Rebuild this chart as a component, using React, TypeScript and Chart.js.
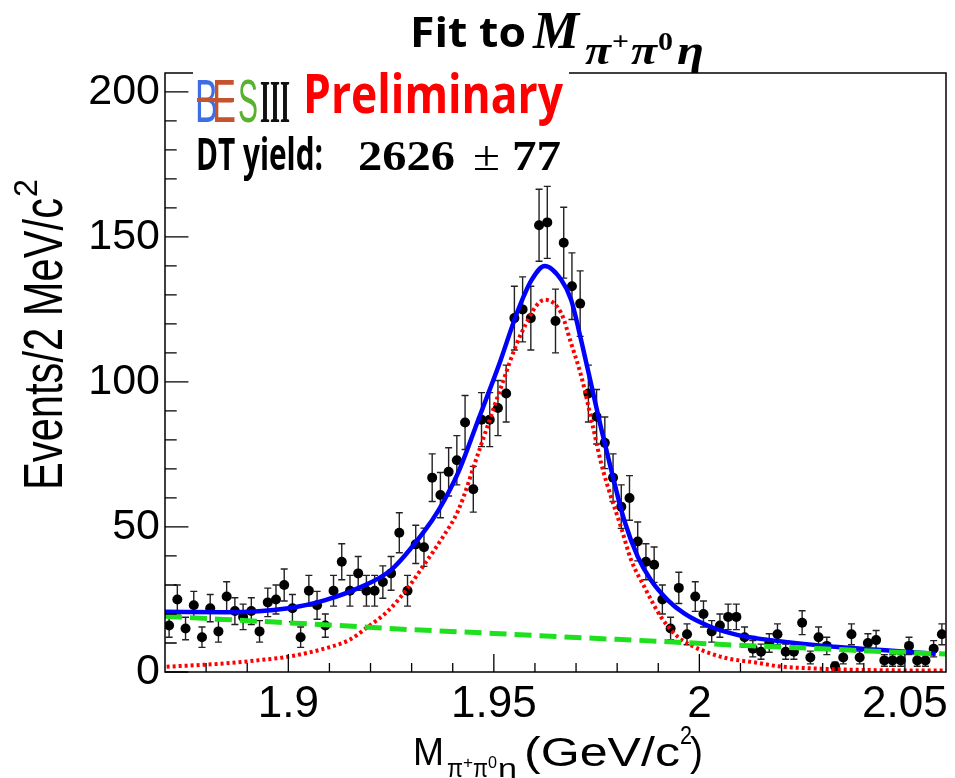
import React, { useEffect, useRef } from 'react';
import { Chart, registerables } from 'chart.js';

Chart.register(...registerables);

// ---- data ----
const massBins = [
  1.871, 1.873, 1.875, 1.877, 1.879, 1.881, 1.883, 1.885, 1.887, 1.889,
  1.891, 1.893, 1.895, 1.897, 1.899, 1.901, 1.903, 1.905, 1.907, 1.909,
  1.911, 1.913, 1.915, 1.917, 1.919, 1.921, 1.923, 1.925, 1.927, 1.929,
  1.931, 1.933, 1.935, 1.937, 1.939, 1.941, 1.943, 1.945, 1.947, 1.949,
  1.951, 1.953, 1.955, 1.957, 1.959, 1.961, 1.963, 1.965, 1.967, 1.969,
  1.971, 1.973, 1.975, 1.977, 1.979, 1.981, 1.983, 1.985, 1.987, 1.989,
  1.991, 1.993, 1.995, 1.997, 1.999, 2.001, 2.003, 2.005, 2.007, 2.009,
  2.011, 2.013, 2.015, 2.017, 2.019, 2.021, 2.023, 2.025, 2.027, 2.029,
  2.031, 2.033, 2.035, 2.037, 2.039, 2.041, 2.043, 2.045, 2.047, 2.049,
  2.051, 2.053, 2.055, 2.057, 2.059,
];

const counts = [
  16, 25, 15, 23, 12, 22, 14, 26, 21, 19,
  21, 14, 24, 25, 30, 22, 12, 28, 23, 16,
  28, 38, 28, 34, 28, 28, 31, 34, 48, 28,
  44, 43, 67, 61, 69, 73, 86, 63, 87, 87,
  91, 96, 122, 125, 122, 154, 155, 121, 148, 133,
  127, 96, 88, 79, 67, 57, 60, 45, 38, 37,
  25, 15, 29, 13, 26, 20, 14, 16, 19, 19,
  12, 8, 7, 10, 13, 7, 7, 17, 5, 12,
  9, 2, 5, 13, 5, 10, 11, 4, 4, 4,
  9, 4, 4, 8, 13,
];

const countErrors = [
  4.0, 5.0, 3.9, 4.8, 3.5, 4.7, 3.7, 5.1, 4.6, 4.4,
  4.6, 3.7, 4.9, 5.0, 5.5, 4.7, 3.5, 5.3, 4.8, 4.0,
  5.3, 6.2, 5.3, 5.8, 5.3, 5.3, 5.6, 5.8, 6.9, 5.3,
  6.6, 6.6, 8.2, 7.8, 8.3, 8.5, 9.3, 7.9, 9.3, 9.3,
  9.5, 9.8, 11.0, 11.2, 11.0, 12.4, 12.4, 11.0, 12.2, 11.5,
  11.3, 9.8, 9.4, 8.9, 8.2, 7.5, 7.7, 6.7, 6.2, 6.1,
  5.0, 3.9, 5.4, 3.6, 5.1, 4.5, 3.7, 4.0, 4.4, 4.4,
  3.5, 2.8, 2.6, 3.2, 3.6, 2.6, 2.6, 4.1, 2.2, 3.5,
  3.0, 1.4, 2.2, 3.6, 2.2, 3.2, 3.3, 2.0, 2.0, 2.0,
  3.0, 2.0, 2.0, 2.8, 3.6,
];

const totalFitX = [
  1.870, 1.885, 1.900, 1.909, 1.917, 1.925, 1.933, 1.9366, 1.9414, 1.9462,
  1.9511, 1.9559, 1.9592, 1.9624, 1.9664, 1.9688, 1.9713, 1.9741, 1.9761, 1.9785,
  1.9817, 1.9850, 1.9882, 1.9923, 1.9963, 2.0027, 2.0092, 2.0140, 2.0215, 2.0337,
  2.0460, 2.0575,
];
const totalFitY = [
  20.8, 20.6, 22.0, 24.8, 28.9, 35.2, 48.4, 55.9, 69.0, 86.9,
  105.3, 124.8, 135.2, 140.0, 135.2, 128.3, 114.0, 96.5, 84.0, 70.0,
  52.4, 39.8, 31.7, 24.8, 20.2, 15.6, 12.8, 11.6, 10.3, 8.6,
  7.4, 6.3,
];

const signalX = [
  1.8704, 1.8849, 1.8930, 1.9001, 1.9091, 1.9148, 1.9189, 1.9245, 1.9293, 1.9333,
  1.9374, 1.9414, 1.9462, 1.9515, 1.9567, 1.9624, 1.9664, 1.9688, 1.9713, 1.9741,
  1.9761, 1.9785, 1.9809, 1.9834, 1.9866, 1.9906, 1.9947, 1.9987, 2.0027, 2.0068,
  2.0140, 2.0190, 2.0300, 2.0450, 2.0600,
];
const signalY = [
  1.8, 3.0, 4.1, 5.3, 8.2, 11.0, 15.1, 21.4, 29.4, 37.5,
  46.1, 55.9, 75.4, 97.2, 116.8, 128.3, 123.7, 113.3, 101.8, 84.6,
  72.0, 60.4, 50.1, 38.6, 29.4, 19.1, 12.2, 8.7, 6.4, 4.7,
  3.2, 2.0, 1.1, 0.6, 0.5,
];

const backgroundX = [1.87, 1.89, 1.91, 1.93, 1.95, 1.97, 1.99, 2.01, 2.03, 2.045, 2.06];
const backgroundY = [19.2, 17.7, 16.2, 14.6, 13.3, 11.9, 10.6, 9.2, 8.0, 7.0, 6.2];

const xTickValues = [1.9, 1.95, 2.0, 2.05];
const xTickLabels = ['1.9', '1.95', '2', '2.05'];
const yTickValues = [0, 50, 100, 150, 200];
const yTickLabels = ['0', '50', '100', '150', '200'];

const X_MIN = 1.87;
const X_MAX = 2.06;
const Y_MIN = 0;
const Y_MAX = 206.5;

function drawFit(
  ctx: CanvasRenderingContext2D,
  text: string,
  x: number,
  y: number,
  font: string,
  color: string,
  targetW?: number
): number {
  ctx.save();
  ctx.font = font;
  ctx.fillStyle = color;
  ctx.textAlign = 'left';
  ctx.textBaseline = 'alphabetic';
  const w = ctx.measureText(text).width;
  const sx = targetW ? targetW / w : 1;
  ctx.translate(x, y);
  ctx.scale(sx, 1);
  ctx.fillText(text, 0, 0);
  ctx.restore();
  return x + w * sx;
}

const errorBarPlugin = {
  id: 'errorBars',
  beforeDatasetsDraw(chart: any) {
    const { ctx, chartArea, scales } = chart;
    const xs = scales.x;
    const ys = scales.y;
    ctx.save();
    ctx.beginPath();
    ctx.rect(chartArea.left, chartArea.top, chartArea.right - chartArea.left, chartArea.bottom - chartArea.top);
    ctx.clip();
    ctx.strokeStyle = '#222';
    ctx.lineWidth = 1.4;
    for (let i = 0; i < massBins.length; i++) {
      const px = xs.getPixelForValue(massBins[i]);
      const y1 = ys.getPixelForValue(counts[i] - countErrors[i]);
      const y2 = ys.getPixelForValue(counts[i] + countErrors[i]);
      ctx.beginPath();
      ctx.moveTo(px, y1);
      ctx.lineTo(px, y2);
      ctx.moveTo(px - 3.5, y1);
      ctx.lineTo(px + 3.5, y1);
      ctx.moveTo(px - 3.5, y2);
      ctx.lineTo(px + 3.5, y2);
      ctx.stroke();
    }
    ctx.restore();
  },
};

const decorPlugin = {
  id: 'decor',
  afterDraw(chart: any) {
    const { ctx, chartArea, scales } = chart;
    const xs = scales.x;
    const ys = scales.y;
    const L = chartArea.left;
    const R = chartArea.right;
    const T = chartArea.top;
    const B = chartArea.bottom;
    const H = B - T;
    const W = R - L;
    ctx.save();
    // frame
    ctx.strokeStyle = '#000';
    ctx.lineWidth = 1.5;
    ctx.strokeRect(L, T, W, H);
    // x ticks (inside, from bottom)
    ctx.lineWidth = 1.3;
    ctx.beginPath();
    for (let k = 0; k <= 19; k++) {
      const v = X_MIN + k * 0.01;
      const px = xs.getPixelForValue(v);
      if (px <= L + 1 || px >= R - 1) continue;
      const major = xTickValues.some((t) => Math.abs(t - v) < 1e-6);
      const len = major ? 0.03 * H : 0.015 * H;
      ctx.moveTo(px, B);
      ctx.lineTo(px, B - len);
    }
    // y ticks (inside, from left)
    for (let v = 0; v <= 200; v += 10) {
      const py = ys.getPixelForValue(v);
      const major = v % 50 === 0;
      const len = major ? 0.03 * W : 0.015 * W;
      ctx.moveTo(L, py);
      ctx.lineTo(L + len, py);
    }
    ctx.stroke();

    // logo box (covers part of the frame top line)
    ctx.fillStyle = '#fff';
    ctx.fillRect(193, 62, 376, 66);

    // BESIII logo letters
    drawFit(ctx, 'B', 195, 122, '62px "Liberation Sans"', '#3d6ee6', 23);
    drawFit(ctx, 'E', 212, 122, '62px "Liberation Sans"', '#c4532e', 24);
    ctx.strokeStyle = '#c4532e';
    ctx.lineWidth = 4;
    ctx.beginPath();
    ctx.moveTo(197, 100);
    ctx.lineTo(234, 100);
    ctx.stroke();
    drawFit(ctx, 'S', 238, 122, '62px "Liberation Sans"', '#58b22f', 20);
    drawFit(ctx, 'III', 260, 122, 'bold 62px "Liberation Serif"', '#111', 30);
    // Preliminary
    drawFit(ctx, 'Preliminary', 303, 113, 'bold 53px "Open Sans"', '#ff0000', 260);

    // DT yield
    drawFit(ctx, 'DT yield:', 196, 170, 'bold 44px "Open Sans"', '#000', 127);
    drawFit(ctx, '2626', 358, 170, 'bold 42px "Liberation Serif"', '#000', 97);
    drawFit(ctx, '±', 473, 170, '42px "Liberation Serif"', '#000', 27);
    drawFit(ctx, '77', 512, 170, 'bold 42px "Liberation Serif"', '#000', 49);

    // Title
    drawFit(ctx, 'Fit to', 410, 47, 'bold 42px "Open Sans"', '#000', 116);
    drawFit(ctx, 'M', 533, 48, 'bold italic 52px "Liberation Serif"', '#000', 46);
    drawFit(ctx, 'π', 585, 64, 'bold italic 42px "Liberation Serif"', '#000', 26);
    drawFit(ctx, '+', 612, 50, 'bold 26px "Liberation Serif"', '#000', 17);
    drawFit(ctx, 'π', 631, 64, 'bold italic 42px "Liberation Serif"', '#000', 26);
    drawFit(ctx, '0', 658, 50, 'bold 26px "Liberation Serif"', '#000', 15);
    drawFit(ctx, 'η', 677, 64, 'bold italic 42px "Liberation Serif"', '#000', 27);

    // X axis title
    const f = '"Liberation Sans"';
    drawFit(ctx, 'M', 413, 765, `39px ${f}`, '#000', 31);
    drawFit(ctx, 'π', 447, 777, `25px ${f}`, '#000', 16);
    drawFit(ctx, '+', 463, 768, `16px ${f}`, '#000', 10);
    drawFit(ctx, 'π', 473, 777, `25px ${f}`, '#000', 15);
    drawFit(ctx, '0', 488, 768, `16px ${f}`, '#000', 9);
    drawFit(ctx, 'η', 498, 777, `25px ${f}`, '#000', 19);
    drawFit(ctx, '(GeV/c', 524, 766, `41px ${f}`, '#000', 156);
    drawFit(ctx, '2', 680, 744, `25px ${f}`, '#000', 12);
    drawFit(ctx, ')', 690, 766, `41px ${f}`, '#000', 13);

    // Y axis title (rotated)
    ctx.save();
    ctx.translate(62, 490);
    ctx.rotate(-Math.PI / 2);
    drawFit(ctx, 'Events/2 MeV/c', 0, 0, `56px ${f}`, '#000', 292);
    drawFit(ctx, '2', 293, -25, `33px ${f}`, '#000', 18);
    ctx.restore();

    ctx.restore();
  },
};

export default function App() {
  const canvasRef = useRef<HTMLCanvasElement>(null);

  useEffect(() => {
    const canvas = canvasRef.current;
    if (!canvas) return;
    const chart = new Chart(canvas, {
      type: 'scatter',
      data: {
        datasets: [
          {
            label: 'background',
            data: backgroundX.map((x, i) => ({ x, y: backgroundY[i] })),
            showLine: true,
            borderColor: '#1fe01f',
            borderWidth: 5,
            borderDash: [17, 8],
            pointRadius: 0,
            cubicInterpolationMode: 'monotone',
            order: 0,
          } as any,
          {
            label: 'signal',
            data: signalX.map((x, i) => ({ x, y: signalY[i] })),
            showLine: true,
            borderColor: '#ff0000',
            borderWidth: 4,
            borderDash: [3, 3],
            pointRadius: 0,
            cubicInterpolationMode: 'monotone',
            order: 1,
          } as any,
          {
            label: 'total',
            data: totalFitX.map((x, i) => ({ x, y: totalFitY[i] })),
            showLine: true,
            borderColor: '#0000ff',
            borderWidth: 4.5,
            pointRadius: 0,
            cubicInterpolationMode: 'monotone',
            order: 2,
          } as any,
          {
            label: 'data',
            data: massBins.map((x, i) => ({ x, y: counts[i] })),
            showLine: false,
            pointRadius: 5,
            pointBackgroundColor: '#000',
            pointBorderColor: '#000',
            pointBorderWidth: 0,
            order: 3,
          } as any,
        ],
      },
      options: {
        animation: false,
        responsive: true,
        maintainAspectRatio: false,
        layout: { padding: { left: 0, top: 73, right: 9, bottom: 0 } },
        plugins: {
          legend: { display: false },
          title: { display: false },
          tooltip: { enabled: false },
        },
        scales: {
          x: {
            type: 'linear',
            min: X_MIN,
            max: X_MAX,
            grid: { display: false, drawTicks: false },
            border: { display: false },
            afterFit: (scale: any) => {
              scale.height = 106;
            },
            afterBuildTicks: (scale: any) => {
              scale.ticks = xTickValues.map((v) => ({ value: v }));
            },
            ticks: {
              autoSkip: false,
              maxRotation: 0,
              padding: 6,
              color: '#000',
              font: { family: 'Liberation Sans', size: 44 },
              callback: (v: any) => {
                const idx = xTickValues.findIndex((t) => Math.abs(t - Number(v)) < 1e-6);
                return idx >= 0 ? xTickLabels[idx] : '';
              },
            },
          },
          y: {
            type: 'linear',
            min: Y_MIN,
            max: Y_MAX,
            grid: { display: false, drawTicks: false },
            border: { display: false },
            afterFit: (scale: any) => {
              scale.width = 165;
            },
            afterBuildTicks: (scale: any) => {
              scale.ticks = yTickValues.map((v) => ({ value: v }));
            },
            ticks: {
              autoSkip: false,
              padding: 5,
              color: '#000',
              font: { family: 'Liberation Sans', size: 43 },
              callback: (v: any) => {
                const idx = yTickValues.indexOf(Number(v));
                return idx >= 0 ? yTickLabels[idx] : '';
              },
            },
          },
        },
      },
      plugins: [errorBarPlugin, decorPlugin],
    });
    return () => chart.destroy();
  }, []);

  return (
    <div style={{ position: 'fixed', left: 0, top: 0, width: 955, height: 778, background: '#fff' }}>
      <canvas ref={canvasRef} style={{ display: 'block', width: 955, height: 778 }} />
    </div>
  );
}
